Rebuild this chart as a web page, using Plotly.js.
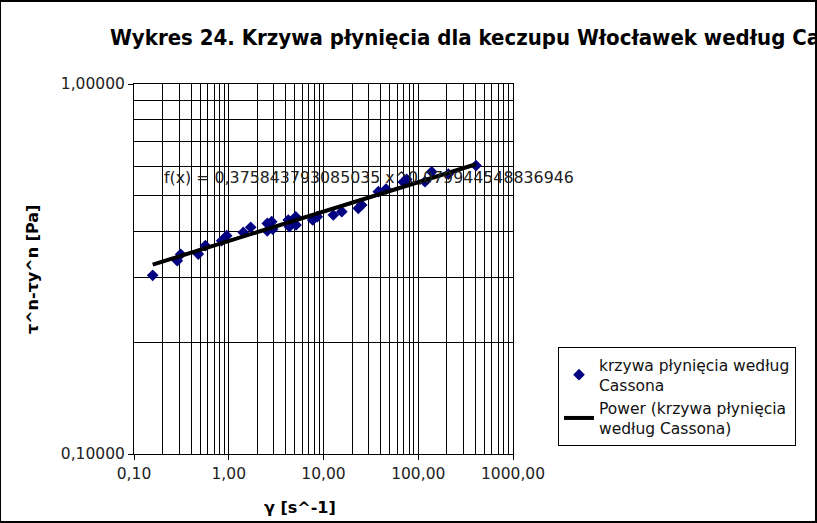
<!DOCTYPE html>
<html>
<head>
<meta charset="utf-8">
<script src="https://cdn.plot.ly/plotly-3.0.1.min.js"></script>
<style>
  html, body { margin: 0; padding: 0; background: #fff; }
  #wrap { position: relative; width: 817px; height: 523px; }
  #chart { position: absolute; left: 0; top: 0; width: 817px; height: 523px; }
  #frame { position: absolute; left: 0; top: 0; width: 817px; height: 523px; box-sizing: border-box;
           border-style: solid; border-color: #000; border-width: 2px 2px 2px 1px; pointer-events: none; }
</style>
</head>
<body>
<div id="wrap"><div id="chart"></div><div id="frame"></div></div>
<script>
// Shear rate γ [s^-1]
const shearRate = [0.1575, 0.286, 0.311, 0.477, 0.566, 0.842, 0.952, 1.424, 1.705, 2.55, 2.55, 2.84, 2.91,
                   4.25, 4.36, 5.09, 5.13, 7.69, 8.60, 12.7, 15.6, 23.3, 25.3, 37.9, 45.7, 69.5, 75.5,
                   117.8, 138.7, 207.6, 407];
// τ^n - τy^n [Pa]
const stressCasson = [0.304, 0.333, 0.3465, 0.347, 0.3656, 0.377, 0.389, 0.397, 0.410, 0.401, 0.420, 0.4245, 0.405,
                      0.429, 0.4114, 0.4378, 0.4159, 0.429, 0.438, 0.4426, 0.4517, 0.4614, 0.4710, 0.5116, 0.520,
                      0.5435, 0.5527, 0.5445, 0.579, 0.571, 0.602];
// Power trendline end points (as drawn)
const trendX = [0.1575, 407];
const trendY = [0.325, 0.607];

const xMajorVals = [0.1, 1, 10, 100, 1000];
const xMajorText = ["0,10", "1,00", "10,00", "100,00", "1000,00"];
const xMinorVals = [0.2,0.3,0.4,0.5,0.6,0.7,0.8,0.9, 2,3,4,5,6,7,8,9, 20,30,40,50,60,70,80,90, 200,300,400,500,600,700,800,900];
const yMajorVals = [0.1, 1];
const yMajorText = ["0,10000", "1,00000"];
const yMinorVals = [0.2,0.3,0.4,0.5,0.6,0.7,0.8,0.9];

const titleText = "Wykres 24. Krzywa płynięcia dla keczupu Włocławek według Cassona";
const equationText = "f(x) = 0,375843793085035 x^0,079944548836946";
const seriesName = "krzywa płynięcia według<br>Cassona";
const trendName = "Power (krzywa płynięcia<br>według Cassona)";
const xTitle = "γ [s^-1]";
const yTitle = "τ^n-τy^n [Pa]";

const FONT = "DejaVu Sans, Liberation Sans, sans-serif";

const traces = [
  { x: shearRate, y: stressCasson, mode: "markers", type: "scatter", name: seriesName,
    marker: { symbol: "diamond", size: 9, color: "#000080" } },
  { x: trendX, y: trendY, mode: "lines", type: "scatter", name: trendName,
    line: { color: "#000", width: 4 } }
];

const axisCommon = {
  type: "log", showline: true, linecolor: "#000", linewidth: 1, mirror: true,
  showgrid: true, gridcolor: "#000", gridwidth: 1, zeroline: false,
  ticks: "outside", ticklen: 5, tickcolor: "#000", tickwidth: 1,
  tickmode: "array", tickfont: { family: FONT, size: 15.5, color: "#222" }
};

const layout = {
  width: 817, height: 523,
  paper_bgcolor: "#fff", plot_bgcolor: "#fff",
  margin: { l: 134, r: 304, t: 84, b: 69 },
  showlegend: true,
  title: { text: titleText, xref: "container", yref: "container", x: 110/817, xanchor: "left",
           y: 1 - 37/523, yanchor: "middle",
           font: { family: "DejaVu Sans Condensed, DejaVu Sans, sans-serif", size: 22, weight: "bold", color: "#000" } },
  xaxis: Object.assign({}, axisCommon, {
    range: [-1, 3], tickvals: xMajorVals, ticktext: xMajorText,
    minor: { tickmode: "array", tickvals: xMinorVals, showgrid: true, gridcolor: "#000", gridwidth: 1, ticks: "" }
  }),
  yaxis: Object.assign({}, axisCommon, {
    range: [-1, 0], tickvals: yMajorVals, ticktext: yMajorText,
    minor: { tickmode: "array", tickvals: yMinorVals, showgrid: true, gridcolor: "#000", gridwidth: 1, ticks: "" }
  }),
  legend: { x: (558-134)/379, xanchor: "left", y: (454-347)/370, yanchor: "top",
            bgcolor: "#fff", bordercolor: "#000", borderwidth: 1,
            font: { family: FONT, size: 15.5, color: "#111" }, tracegroupgap: 0 },
  annotations: [
    { text: equationText, xref: "paper", yref: "paper", x: (162-134)/379, y: (454-177)/370,
      xanchor: "left", yanchor: "middle", showarrow: false,
      font: { family: FONT, size: 15.8, color: "#222" } },
    { text: xTitle, xref: "paper", yref: "paper", x: (300-134)/379, y: (454-507)/370,
      xanchor: "center", yanchor: "middle", showarrow: false,
      font: { family: FONT, size: 16, weight: "bold", color: "#000" } },
    { text: yTitle, xref: "paper", yref: "paper", x: (32-134)/379, y: 0.5, textangle: -90,
      xanchor: "center", yanchor: "middle", showarrow: false,
      font: { family: FONT, size: 16, weight: "bold", color: "#000" } }
  ]
};

Plotly.newPlot("chart", traces, layout, { staticPlot: true, displayModeBar: false });
</script>
</body>
</html>
